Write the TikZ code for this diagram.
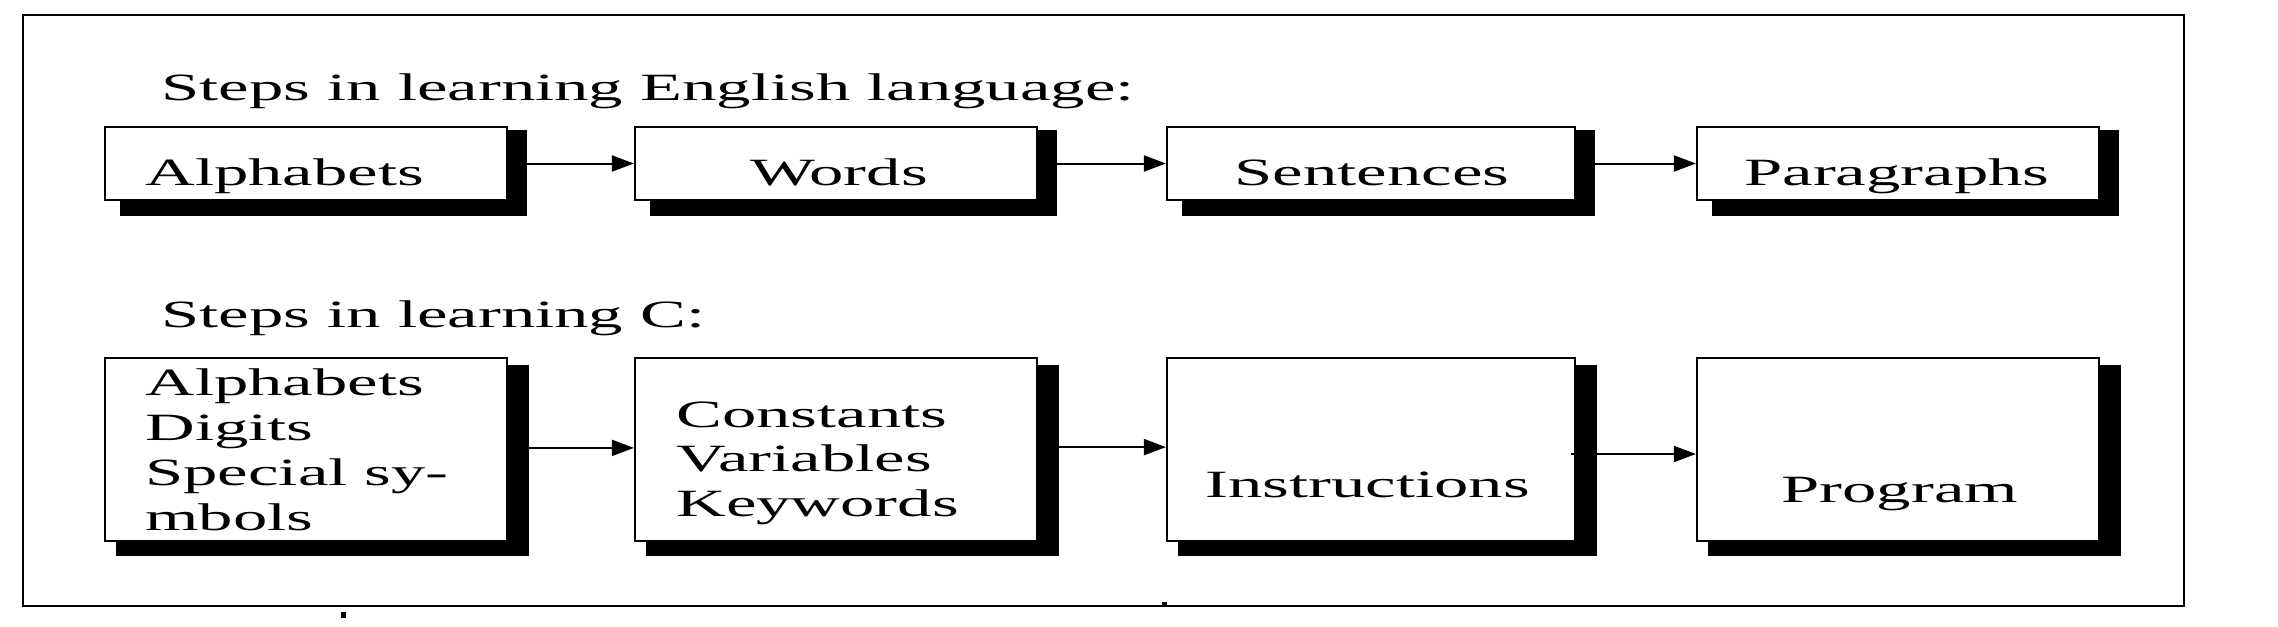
\documentclass[tikz,border=0pt]{standalone}
\usepackage{fontspec}
\setmainfont{Liberation Serif}[FakeStretch=1.78]
\usetikzlibrary{arrows.meta,calc}
\pgfdeclarelayer{bg}
\pgfsetlayers{bg,main}
\tikzset{
  stepbox/.style={draw, line width=1.1pt, fill=white, inner sep=0pt, minimum width=201pt},
  toprow/.style={stepbox, minimum height=36.5pt},
  botrow/.style={stepbox, minimum height=91.5pt},
  txt/.style={inner sep=0pt, font=\fontsize{19.3pt}{22.5pt}\selectfont},
  arr/.style={line width=1pt, -{Triangle[length=11pt,width=8pt]}},
  shade/.style={fill=black}
}
\begin{document}
\begin{tikzpicture}[x=0.5pt,y=-0.5pt]
\useasboundingbox (0,0) rectangle (2278,626);
% frame
\draw[line width=1.3pt] (23,15) rectangle (2184,606);
\fill (341,612) rectangle (346,618);
\fill (1162,602) rectangle (1167,606);

% titles
\node[txt, anchor=base west] (title1) at (161,100) {Steps in learning English language:};
\node[txt, anchor=base west] (title2) at (161,327) {Steps in learning C:};

% top row boxes
\node[toprow] (t1) at (306,163.5) {};
\node[toprow] (t2) at (836,163.5) {};
\node[toprow, minimum width=204pt] (t3) at (1371,163.5) {};
\node[toprow] (t4) at (1898,163.5) {};

% bottom row boxes
\node[botrow] (b1) at (306,449.5) {};
\node[botrow] (b2) at (836,449.5) {};
\node[botrow, minimum width=204pt] (b3) at (1371,449.5) {};
\node[botrow] (b4) at (1898,449.5) {};

% background and shadows
\begin{pgfonlayer}{bg}
\fill[white] (0,0) rectangle (2278,626);
\foreach \n in {t1,t2,t3,t4}{
  \fill[shade] ($(\n.north west)+(16,4)$) rectangle ($(\n.south east)+(19,15)$);
}
\foreach \n in {b1,b2,b3,b4}{
  \fill[shade] ($(\n.north west)+(12,8)$) rectangle ($(\n.south east)+(21,14)$);
}
\end{pgfonlayer}

% top row texts
\node[txt, anchor=base west] (t1txt) at (145,185) {Alphabets};
\node[txt, anchor=base] (t2txt) at (839,185) {Words};
\node[txt, anchor=base] (t3txt) at (1372,185) {Sentences};
\node[txt, anchor=base] (t4txt) at (1897,185) {Paragraphs};

% bottom row texts
\node[txt, anchor=base west] (b1l1) at (145,395) {Alphabets};
\node[txt, anchor=base west] (b1l2) at (145,440) {Digits};
\node[txt, anchor=base west] (b1l3) at (145,485) {Special sy-};
\node[txt, anchor=base west] (b1l4) at (145,530) {mbols};
\node[txt, anchor=base west] (b2l1) at (676,427) {Constants};
\node[txt, anchor=base west] (b2l2) at (676,471) {Variables};
\node[txt, anchor=base west] (b2l3) at (676,516) {Keywords};
\node[txt, anchor=base west] (b3txt) at (1205,497) {Instructions};
\node[txt, anchor=base west] (b4txt) at (1781,502) {Program};

% connectors
\draw[arr] (t1.east) -- (t2.west);
\draw[arr] (t2.east) -- (t3.west);
\draw[arr] (t3.east) -- (t4.west);
\draw[arr] ([yshift=0.8pt]b1.east) -- ([yshift=0.8pt]b2.west);
\draw[arr] ([yshift=1.2pt]b2.east) -- ([yshift=1.2pt]b3.west);
\draw[arr] ([xshift=-2.5pt,yshift=-2.25pt]b3.east) -- ([yshift=-2.25pt]b4.west);
\end{tikzpicture}
\end{document}
